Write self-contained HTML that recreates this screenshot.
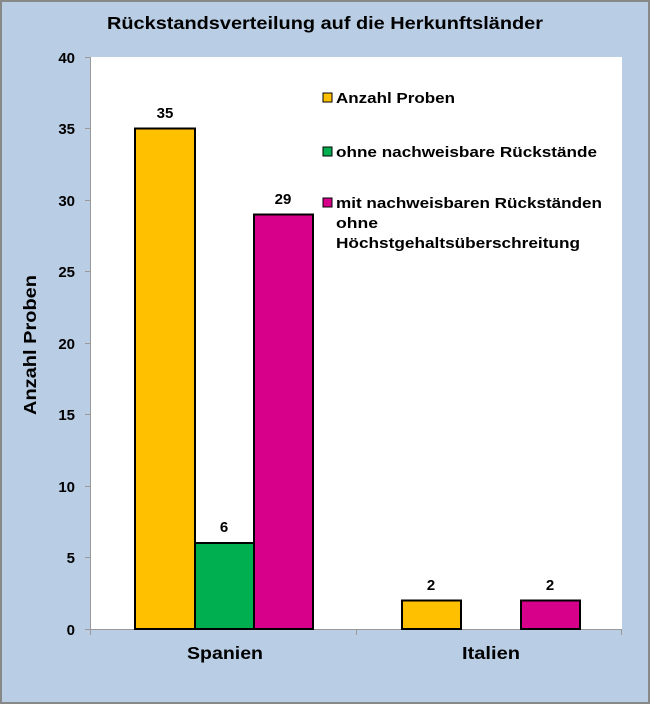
<!DOCTYPE html>
<html><head><style>body{margin:0}svg{display:block}</style></head><body>
<svg width="650" height="704" xmlns="http://www.w3.org/2000/svg" font-family="Liberation Sans, sans-serif" font-weight="bold">
<rect x="0" y="0" width="650" height="704" fill="#b9cde5"/>
<rect x="1" y="1" width="648" height="702" fill="none" stroke="#888" stroke-width="2"/>
<text x="107" y="29" font-size="17.5" textLength="436" lengthAdjust="spacingAndGlyphs" fill="#000">Rückstandsverteilung auf die Herkunftsländer</text>
<rect x="91" y="57" width="531" height="572" fill="#fff"/>
<g stroke="#999" stroke-width="1">
<line x1="90.5" y1="57" x2="90.5" y2="629"/>
<line x1="90" y1="629.5" x2="622" y2="629.5"/>
<line x1="85" y1="57.5" x2="90" y2="57.5"/><line x1="85" y1="128.5" x2="90" y2="128.5"/>
<line x1="85" y1="200.5" x2="90" y2="200.5"/><line x1="85" y1="271.5" x2="90" y2="271.5"/>
<line x1="85" y1="343.5" x2="90" y2="343.5"/><line x1="85" y1="414.5" x2="90" y2="414.5"/>
<line x1="85" y1="486.5" x2="90" y2="486.5"/><line x1="85" y1="557.5" x2="90" y2="557.5"/>
<line x1="85" y1="629.5" x2="90" y2="629.5"/>
<line x1="90.5" y1="629" x2="90.5" y2="635"/><line x1="356.5" y1="629" x2="356.5" y2="635"/><line x1="621.5" y1="629" x2="621.5" y2="635"/>
</g>
<g font-size="15" text-anchor="end" fill="#000">
<text x="75" y="63">40</text><text x="75" y="134">35</text><text x="75" y="206">30</text>
<text x="75" y="277">25</text><text x="75" y="349">20</text><text x="75" y="420">15</text>
<text x="75" y="492">10</text><text x="75" y="563">5</text><text x="75" y="635">0</text>
</g>
<text transform="translate(36,415) rotate(-90)" font-size="17.5" textLength="140" lengthAdjust="spacingAndGlyphs">Anzahl Proben</text>
<g stroke="#000" stroke-width="2">
<rect x="135" y="128.5" width="60" height="500.5" fill="#ffc000"/>
<rect x="195" y="543" width="59" height="86" fill="#00b050"/>
<rect x="254" y="214.5" width="59" height="414.5" fill="#d6008b"/>
<rect x="402" y="600.5" width="59" height="28.5" fill="#ffc000"/>
<rect x="521" y="600.5" width="59" height="28.5" fill="#d6008b"/>
</g>
<g font-size="15" text-anchor="middle">
<text x="165" y="118">35</text><text x="224" y="532">6</text><text x="283" y="204">29</text>
<text x="431" y="590">2</text><text x="550" y="590">2</text>
</g>
<g font-size="17.5">
<text x="187" y="659" textLength="76" lengthAdjust="spacingAndGlyphs">Spanien</text>
<text x="462" y="659" textLength="58" lengthAdjust="spacingAndGlyphs">Italien</text>
</g>
<g stroke="#000" stroke-width="1">
<rect x="323" y="93" width="9" height="9" fill="#ffc000"/>
<rect x="323" y="147" width="9" height="9" fill="#00b050"/>
<rect x="323" y="198" width="9" height="9" fill="#d6008b"/>
</g>
<g font-size="15" lengthAdjust="spacingAndGlyphs">
<text x="336" y="103" textLength="119" lengthAdjust="spacingAndGlyphs">Anzahl Proben</text>
<text x="336" y="157" textLength="261" lengthAdjust="spacingAndGlyphs">ohne nachweisbare Rückstände</text>
<text x="336" y="208" textLength="266" lengthAdjust="spacingAndGlyphs">mit nachweisbaren Rückständen</text>
<text x="336" y="228" textLength="42" lengthAdjust="spacingAndGlyphs">ohne</text>
<text x="336" y="248" textLength="244" lengthAdjust="spacingAndGlyphs">Höchstgehaltsüberschreitung</text>
</g>
</svg>
</body></html>
